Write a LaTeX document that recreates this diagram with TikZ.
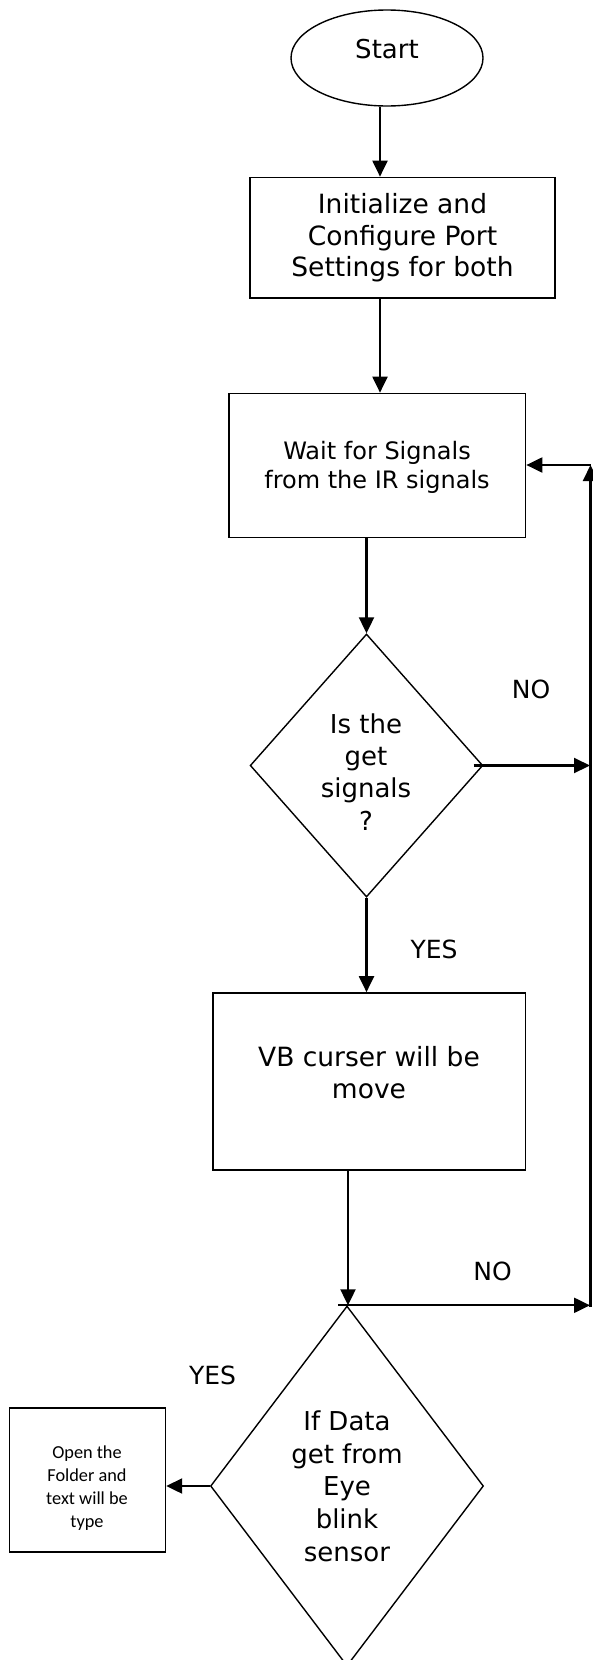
\documentclass[tikz,border=0pt]{standalone}
\usepackage{fontspec}
\setmainfont{DejaVu Sans}
\newfontfamily\calfont{Carlito}
\usetikzlibrary{shapes.geometric,arrows.meta}
\begin{document}
\begin{tikzpicture}[x=1pt,y=-1pt,
  box/.style={draw, line width=1.7pt, rectangle, inner sep=0pt},
  dia/.style={draw, line width=1.4pt, diamond, inner sep=0pt},
  arr/.style={line width=2.1pt, -{Triangle[length=16pt,width=15pt]}},
  lbl/.style={font=\fontsize{25}{30}\selectfont},
  txt/.style={align=center, inner sep=0pt}]
\useasboundingbox (0,0) rectangle (592,1660);
\fill[white] (0,0) rectangle (592,1660);
% nodes
\node[draw, ellipse, line width=1.4pt, minimum width=192pt, minimum height=96pt, inner sep=0pt] (start) at (387,58) {};
\node[txt, font=\fontsize{26}{31}\selectfont] (starttxt) at (387,49) {Start};
\node[box, minimum width=305pt, minimum height=120.5pt, align=center, font=\fontsize{26.5}{31.4}\selectfont] (box1) at (402.5,237.75) {Initialize and\\Configure Port\\Settings for both};
\node[box, minimum width=296.5pt, minimum height=144pt] (box2) at (377.25,465.5) {};
\node[txt, font=\fontsize{24}{29.3}\selectfont] (box2txt) at (377,467.5) {Wait for Signals\\from the IR signals};
\node[dia, minimum width=232.7pt, minimum height=263pt] (dia1) at (366.5,765.5) {};
\node[txt, font=\fontsize{26}{32.2}\selectfont] (dia1txt) at (366,772) {Is the\\get\\signals\\?};
\node[box, minimum width=312.5pt, minimum height=177pt] (box3) at (369.25,1081.5) {};
\node[txt, font=\fontsize{26.5}{32}\selectfont] (box3txt) at (369,1073) {VB curser will be\\move};
\node[dia, minimum width=273pt, minimum height=360pt] (dia2) at (347,1486) {};
\node[txt, font=\fontsize{26}{32.7}\selectfont] (dia2txt) at (347,1486) {If Data\\get from\\Eye\\blink\\sensor};
\node[box, minimum width=156pt, minimum height=144pt] (box4) at (87.35,1480) {};
\node[txt, font=\calfont\fontsize{18.3}{23}\selectfont] (box4txt) at (87,1488) {Open the\\Folder and\\text will be\\type};
% labels
\node[lbl] (no1) at (531,689) {NO};
\node[lbl] (yes1) at (434,949) {YES};
\node[lbl] (no2) at (492.6,1271) {NO};
\node[lbl] (yes2) at (212.5,1375) {YES};
% helper coordinates
\coordinate (cx1) at (380,0);
\coordinate (cx3) at (348,0);
\coordinate (rA) at (590.5,465);
\coordinate (rX) at (590,0);
\coordinate (rD) at (590.5,1307);
% connectors
\draw[arr] (start.south -| cx1) -- (box1.north -| cx1);
\draw[arr] (box1.south -| cx1) -- (box2.north -| cx1);
\draw[arr] (box2.south -| dia1.north) -- (dia1.north);
\draw[arr] ([xshift=-10pt]dia1.east) -- (dia1.east -| rX);
\draw[arr] (dia1.south) -- (box3.north -| dia1.south);
\draw[arr] (box3.south -| cx3) -- (dia2.north -| cx3);
\draw[arr] ([xshift=-9pt]dia2.north) -- (dia2.north -| rX);
\draw[arr] (rD) -- (rA);
\draw[arr] (rA) -- (box2.east |- rA);
\draw[arr] (dia2.west) -- (dia2.west -| box4.east);
\end{tikzpicture}
\end{document}
